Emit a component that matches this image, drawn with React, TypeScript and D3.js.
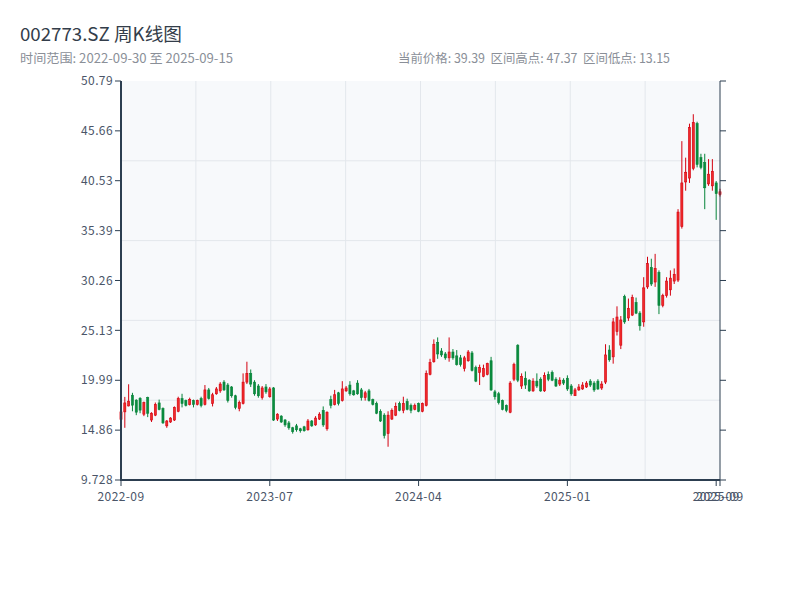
import React from "react";
import * as d3 from "d3";

const OPEN = [
  15.96, 16.74, 17.35, 18.45, 17.94, 18.14, 16.5, 18.2, 15.9, 16.4,
  17.66, 17.09, 15.3, 15.7, 15.9, 16.8, 18.1, 17.9, 17.5, 17.9,
  17.5, 18.1, 17.5, 19.0, 17.6, 18.6, 18.9, 19.8, 19.5, 19.3,
  18.4, 17.1, 17.6, 19.8, 20.7, 19.8, 19.4, 18.2, 19.3, 18.3,
  19.2, 16.0, 16.3, 15.9, 15.6, 15.1, 15.3, 15.0, 15.2, 14.9,
  15.8, 15.4, 16.0, 16.9, 15.0, 18.0, 17.5, 18.7, 17.9, 18.9,
  19.5, 18.9, 19.7, 19.0, 18.2, 18.9, 18.0, 17.6, 16.8, 16.4,
  14.5, 16.0, 16.4, 17.6, 16.9, 17.8, 17.4, 17.0, 17.6, 16.8,
  17.4, 20.6, 21.9, 23.9, 23.0, 22.7, 22.3, 22.9, 22.5, 22.3,
  21.2, 22.0, 22.8, 21.3, 20.8, 20.4, 20.6, 22.0, 18.8, 18.6,
  17.9, 17.4, 16.7, 20.1, 23.6, 19.4, 20.2, 20.0, 18.9, 19.9,
  20.1, 18.9, 20.6, 20.8, 20.1, 19.6, 20.0, 20.2, 19.4, 18.4,
  19.0, 19.1, 19.3, 19.9, 19.7, 19.9, 19.2, 19.8, 23.1, 22.4,
  25.0, 23.6, 28.6, 26.4, 26.7, 28.0, 26.9, 26.0, 29.6, 31.6,
  30.1, 31.1, 27.7, 28.7, 29.3, 30.2, 30.3, 35.8, 40.4, 40.8,
  41.8, 46.4, 42.9, 42.4, 40.2, 40.0, 40.3, 39.1,
];

const CLOSE = [
  16.74, 17.66, 17.84, 17.43, 16.71, 16.92, 17.7, 16.6, 16.6, 17.5,
  16.98, 15.61, 15.8, 16.1, 17.2, 18.1, 17.6, 17.4, 18.0, 17.5,
  17.9, 17.4, 19.0, 18.1, 18.5, 19.1, 19.6, 19.0, 17.9, 18.4,
  17.2, 17.7, 19.8, 20.7, 19.6, 18.6, 18.4, 19.2, 18.8, 19.1,
  15.9, 16.5, 15.7, 15.4, 15.1, 14.7, 14.9, 14.8, 14.8, 15.8,
  15.3, 16.1, 16.5, 15.4, 16.7, 17.4, 18.5, 17.6, 19.1, 19.2,
  18.6, 18.5, 18.6, 18.2, 18.7, 17.9, 17.5, 16.6, 15.8, 14.3,
  16.4, 16.9, 17.3, 16.9, 17.6, 17.0, 16.9, 17.4, 16.8, 17.6,
  20.7, 21.8, 23.7, 22.7, 22.6, 22.3, 22.9, 22.3, 21.6, 21.6,
  22.3, 22.9, 21.0, 19.9, 21.3, 21.2, 21.7, 19.0, 18.3, 17.7,
  17.0, 16.9, 19.7, 21.6, 20.0, 20.4, 19.5, 18.9, 19.9, 19.4,
  18.9, 20.5, 20.1, 20.0, 19.4, 20.0, 19.7, 19.1, 18.6, 19.0,
  19.3, 19.5, 19.7, 19.5, 19.0, 19.1, 19.6, 22.6, 22.1, 26.0,
  26.5, 26.2, 26.0, 27.4, 28.5, 26.9, 25.6, 29.5, 32.0, 29.9,
  31.5, 27.7, 28.7, 30.2, 30.5, 30.9, 37.3, 40.3, 41.4, 46.0,
  46.5, 42.2, 41.9, 39.8, 41.2, 41.5, 39.2, 39.39,
];

const HIGH = [
  16.9, 18.28, 19.58, 18.7, 18.04, 18.25, 17.8, 18.3, 16.7, 17.7,
  18.0, 17.2, 15.9, 16.2, 17.3, 18.3, 18.6, 18.0, 18.2, 18.0,
  18.0, 18.3, 19.5, 19.2, 18.7, 19.3, 19.8, 20.0, 19.7, 19.4,
  18.5, 17.9, 20.7, 21.9, 21.1, 20.0, 19.6, 19.4, 19.6, 19.3,
  19.3, 16.6, 16.4, 16.0, 15.8, 15.2, 15.5, 15.1, 15.3, 16.0,
  15.9, 16.3, 16.7, 17.3, 16.8, 18.4, 19.0, 18.8, 19.9, 19.4,
  19.9, 19.0, 20.0, 19.2, 18.9, 19.1, 18.1, 17.8, 17.0, 16.6,
  16.8, 17.1, 17.7, 17.8, 18.3, 18.1, 17.6, 17.6, 17.7, 17.7,
  21.0, 22.2, 24.2, 24.4, 23.3, 22.9, 24.4, 23.2, 23.1, 22.6,
  22.5, 23.1, 23.0, 21.5, 21.6, 21.6, 21.8, 22.4, 19.0, 18.8,
  18.0, 17.5, 19.9, 21.8, 23.7, 20.7, 20.9, 20.1, 20.2, 20.7,
  20.3, 20.8, 20.9, 21.0, 20.3, 20.3, 20.2, 20.5, 19.6, 19.2,
  19.6, 19.8, 19.9, 20.1, 19.9, 20.1, 19.9, 23.7, 23.6, 26.4,
  27.6, 26.6, 28.8, 28.4, 28.8, 28.5, 27.1, 30.6, 32.7, 32.5,
  33.0, 31.3, 28.9, 30.6, 31.3, 31.5, 37.6, 44.6, 42.9, 46.4,
  47.37, 46.6, 43.3, 43.3, 42.75, 42.75, 40.5, 39.7,
];

const LOW = [
  15.8, 15.1, 17.3, 16.8, 16.4, 16.6, 16.3, 16.2, 15.7, 16.3,
  16.9, 15.5, 15.1, 15.6, 15.8, 16.7, 17.2, 17.3, 17.4, 17.2,
  17.4, 17.2, 17.4, 18.0, 17.3, 18.5, 18.7, 18.9, 17.7, 18.2,
  17.0, 16.8, 17.5, 19.6, 19.3, 18.4, 18.2, 18.0, 18.6, 18.2,
  15.8, 15.8, 15.6, 15.2, 14.9, 14.5, 14.7, 14.6, 14.7, 14.8,
  15.2, 15.3, 15.9, 15.2, 14.8, 17.1, 17.4, 17.4, 17.8, 18.8,
  18.4, 18.4, 18.5, 17.9, 17.9, 17.8, 17.4, 16.5, 15.7, 14.0,
  13.15, 15.9, 16.3, 16.8, 16.6, 16.9, 16.6, 16.9, 16.7, 16.7,
  17.3, 20.5, 21.8, 22.2, 22.4, 22.1, 21.9, 22.1, 21.5, 21.4,
  20.9, 21.9, 20.9, 19.8, 19.5, 20.3, 20.5, 18.9, 18.0, 17.5,
  16.9, 16.7, 16.6, 19.9, 19.8, 19.1, 19.1, 18.8, 18.8, 19.2,
  18.8, 18.8, 19.9, 19.9, 19.3, 19.4, 19.5, 18.9, 18.4, 18.4,
  18.9, 19.0, 19.2, 19.3, 18.8, 19.0, 19.0, 19.6, 21.9, 21.7,
  24.6, 23.2, 25.8, 26.1, 26.6, 26.8, 25.1, 25.5, 29.4, 29.7,
  29.6, 26.8, 27.5, 28.5, 28.7, 29.9, 30.1, 35.6, 39.5, 40.3,
  41.6, 41.9, 41.7, 37.6, 40.0, 39.5, 36.5, 38.9,
];

const Y_TICKS = [9.728, 14.86, 19.99, 25.13, 30.26, 35.39, 40.53, 45.66, 50.79];
const X_TICK_INDEX = [0, 39, 78, 117, 156, 157];
const X_TICK_LABELS = ["2022-09", "2023-07", "2024-04", "2025-01", "2025-09", "2025-09"];

const TITLE = "002773.SZ 周K线图";
const SUBTITLE = "时间范围: 2022-09-30 至 2025-09-15";
const STATS = "当前价格: 39.39  区间高点: 47.37  区间低点: 13.15";

const FONT = '"Noto Sans CJK SC", "Noto Sans", sans-serif';
const UP_FILL = "#f02a2a";
const UP_STROKE = "#d3000f";
const DOWN_FILL = "#0a8c3e";
const DOWN_STROKE = "#07843a";
const AXIS = "#2c3e50";
const GRID = "#e3e7ec";

export default function App() {
  const left = 121;
  const right = 720;
  const top = 81;
  const bottom = 480;
  const n = CLOSE.length;
  const x = d3.scaleLinear().domain([0, n - 1]).range([left, right]);
  const y = d3.scaleLinear().domain([Y_TICKS[0], Y_TICKS[Y_TICKS.length - 1]]).range([bottom, top]);
  const step = (right - left) / (n - 1);
  const bodyW = Math.max(1.6, step * 0.55);

  const vGrid = d3.range(1, 8).map((k) => left + ((right - left) * k) / 8);
  const hGrid = d3.range(1, 5).map((k) => bottom - ((bottom - top) * k) / 5);

  const fmt = (v: number) => (v < 10 ? v.toFixed(3) : v.toFixed(2));

  return (
    <svg
      width={800}
      height={600}
      style={{ position: "absolute", left: 0, top: 0, background: "#fff" }}
      fontFamily={FONT}
    >
      <text x={20} y={41} fontSize={18} fill="#333d4a" textLength={162} lengthAdjust="spacingAndGlyphs">{TITLE}</text>
      <text x={20} y={63} fontSize={12.5} fill="#8a8f98" textLength={213} lengthAdjust="spacingAndGlyphs">{SUBTITLE}</text>
      <text x={398} y={63} fontSize={12.5} fill="#8a8f98" style={{ whiteSpace: "pre" }} textLength={272} lengthAdjust="spacingAndGlyphs">{STATS}</text>

      <rect x={left} y={top} width={right - left} height={bottom - top} fill="#f7f9fb" />
      {vGrid.map((gx, i) => (
        <line key={"vg" + i} x1={gx} x2={gx} y1={top} y2={bottom} stroke={GRID} strokeWidth={1} />
      ))}
      {hGrid.map((gy, i) => (
        <line key={"hg" + i} x1={left} x2={right} y1={gy} y2={gy} stroke={GRID} strokeWidth={1} />
      ))}

      {CLOSE.map((c, i) => {
        const o = OPEN[i];
        const up = c >= o;
        const cx = x(i);
        const yTop = y(Math.max(o, c));
        const yBot = y(Math.min(o, c));
        const h = Math.max(1, yBot - yTop);
        return (
          <g key={"c" + i}>
            <line
              x1={cx}
              x2={cx}
              y1={y(HIGH[i])}
              y2={y(LOW[i])}
              stroke={up ? UP_STROKE : DOWN_STROKE}
              strokeWidth={1}
            />
            <rect
              x={cx - bodyW / 2}
              y={yTop}
              width={bodyW}
              height={h}
              fill={up ? UP_FILL : DOWN_FILL}
              stroke={up ? UP_STROKE : DOWN_STROKE}
              strokeWidth={0.6}
            />
          </g>
        );
      })}

      <line x1={left} x2={left} y1={top} y2={bottom + 1} stroke={AXIS} strokeWidth={2} />
      {Y_TICKS.map((t, i) => (
        <g key={"yt" + i}>
          <line x1={left - 6} x2={left} y1={y(t)} y2={y(t)} stroke={AXIS} strokeWidth={1} />
          <text x={113} y={y(t)} dy="0.35em" textAnchor="end" fontSize={12} fill="#4a5568" letterSpacing={0.4}>
            {fmt(t)}
          </text>
        </g>
      ))}

      <line x1={right} x2={right} y1={top} y2={bottom} stroke={AXIS} strokeWidth={1} />
      {Y_TICKS.map((t, i) => (
        <line key={"yr" + i} x1={right} x2={right + 6} y1={y(t)} y2={y(t)} stroke={AXIS} strokeWidth={1} />
      ))}

      <line x1={left - 1} x2={right} y1={bottom} y2={bottom} stroke={AXIS} strokeWidth={2} />
      {X_TICK_INDEX.map((idx, i) => (
        <g key={"xt" + i}>
          <line x1={x(idx)} x2={x(idx)} y1={bottom} y2={bottom + 6} stroke={AXIS} strokeWidth={1} />
          <text x={x(idx)} y={501} textAnchor="middle" fontSize={12} fill="#4a5568" letterSpacing={0.4}>
            {X_TICK_LABELS[i]}
          </text>
        </g>
      ))}
    </svg>
  );
}
